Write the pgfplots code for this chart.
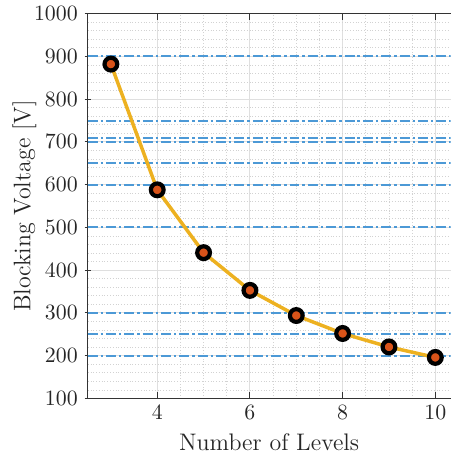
\documentclass[border=0pt]{standalone}
\usepackage{pgfplots}
\pgfplotsset{compat=1.18}
\definecolor{mlyellow}{rgb}{0.929,0.694,0.125}
\definecolor{mlorange}{rgb}{0.851,0.325,0.098}
\definecolor{refblue}{rgb}{0.30,0.60,0.84}
\begin{document}
\begin{tikzpicture}
\begin{axis}[
  scale only axis, width=182pt, height=193pt,
  xmin=2.5, xmax=10.33, ymin=100, ymax=1000,
  xtick={4,6,8,10}, ytick={100,200,...,1000},
  minor x tick num=3, minor y tick num=4,
  /pgf/number format/1000 sep={},
  axis x line=box, axis y line=left,
  axis line style={black!80, line width=0.5pt, -},
  tick style={black!80, line width=0.5pt},
  major tick length=3pt, minor tick length=0pt,
  grid=both,
  major grid style={gray!25, line width=0.5pt},
  minor grid style={gray!35, densely dotted, line width=0.4pt},
  ticklabel style={font=\fontsize{11}{13}\selectfont, text=black!85},
  label style={font=\fontsize{12}{15}\selectfont, text=black!85},
  xlabel={Number of Levels}, ylabel={Blocking Voltage [V]},
  ylabel style={yshift=-8pt},
  hline/.style={refblue, line width=1.0pt, dash pattern=on 5pt off 1.5pt on 1.2pt off 1.5pt, forget plot},
]
\addplot[hline] coordinates {(2.5,900) (10.33,900)};
\addplot[hline] coordinates {(2.5,750) (10.33,750)};
\addplot[hline] coordinates {(2.5,710) (10.33,710)};
\addplot[hline] coordinates {(2.5,700) (10.33,700)};
\addplot[hline] coordinates {(2.5,650) (10.33,650)};
\addplot[hline] coordinates {(2.5,600) (10.33,600)};
\addplot[hline] coordinates {(2.5,500) (10.33,500)};
\addplot[hline] coordinates {(2.5,300) (10.33,300)};
\addplot[hline] coordinates {(2.5,250) (10.33,250)};
\addplot[hline] coordinates {(2.5,200) (10.33,200)};
\addplot[mlyellow, line width=1.75pt, mark=*, mark size=3.2pt,
  mark options={fill=mlorange, draw=black, line width=2.1pt}]
  coordinates {(3,882) (4,588) (5,441) (6,352.8) (7,294) (8,252) (9,220.5) (10,196)};
\end{axis}
% white margin left of the y label, as in the reference
\path (current axis.south west) ++(-44pt,0pt);
\end{tikzpicture}
\end{document}
